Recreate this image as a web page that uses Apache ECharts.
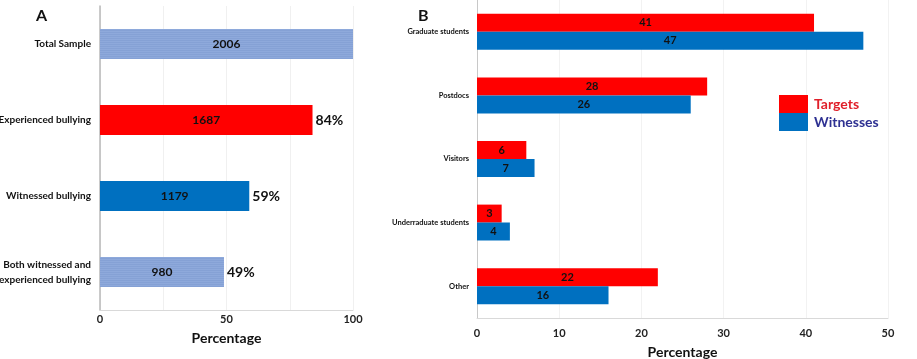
<!DOCTYPE html>
<html><head><meta charset="utf-8">
<script src="https://cdn.jsdelivr.net/npm/echarts@6/dist/echarts.min.js"></script>
<style>html,body{margin:0;padding:0;background:#fff}#c{width:917px;height:359px}</style>
</head><body><div id="c"></div>
<script>
// Panel A data
var catsA = ['Total Sample', 'Experienced bullying', 'Witnessed bullying', 'Both witnessed and\nexperienced bullying'];
var pctA = [100, 84, 59, 49];
var countsA = [2006, 1687, 1179, 980];
var pctLabelsA = ['', '84%', '59%', '49%'];
var ticksA = [0, 50, 100];
// Panel B data
var catsB = ['Graduate students', 'Postdocs', 'Visitors', 'Underraduate students', 'Other'];
var targetsB = [41, 28, 6, 3, 22];
var witnessesB = [47, 26, 7, 4, 16];
var ticksB = [0, 10, 20, 30, 40, 50];

var FONT = 'Lato';
var lightBlue = '#8EA9DB', red = '#FF0000', blue = '#0070C0';
var hatch = { symbol: 'rect', symbolSize: 1, dashArrayX: [[1, 0]], dashArrayY: [1, 1], rotation: 0, color: 'rgba(100,130,190,0.22)' };
var colorsA = [lightBlue, red, blue, lightBlue];

var chart = echarts.init(document.getElementById('c'), null, { renderer: 'canvas' });
chart.setOption({
  animation: false,
  textStyle: { fontFamily: FONT },
  title: [
    { text: 'A', left: 31, top: 3, textStyle: { fontFamily: FONT, fontSize: 16, fontWeight: 'bold', color: '#111' } },
    { text: 'B', left: 413, top: 3, textStyle: { fontFamily: FONT, fontSize: 16, fontWeight: 'bold', color: '#111' } }
  ],
  legend: {
    orient: 'vertical', left: 774, top: 90, itemWidth: 29, itemHeight: 18, itemGap: 0, icon: 'rect',
    selectedMode: false,
    textStyle: { fontFamily: FONT, fontSize: 14, fontWeight: 'bold', padding: [0, 0, 0, 1] },
    data: [
      { name: 'Targets', textStyle: { color: '#E0202A' } },
      { name: 'Witnesses', textStyle: { color: '#2E3192' } }
    ]
  },
  grid: [
    { left: 100, right: 564, top: 6, bottom: 49, containLabel: false, outerBoundsMode: 'none' },
    { left: 477, right: 29, top: 0, bottom: 41, containLabel: false, outerBoundsMode: 'none' }
  ],
  xAxis: [
    {
      gridIndex: 0, type: 'value', min: 0, max: 100, interval: 25,
      axisLine: { show: true, lineStyle: { color: '#D9D9D9' } }, axisTick: { show: false },
      splitLine: { show: true, lineStyle: { color: '#F0F0F0' } },
      axisLabel: { margin: 4, fontSize: 11, fontWeight: 'bold', color: '#222', fontFamily: FONT,
        formatter: function (v) { return ticksA.indexOf(v) >= 0 ? String(v) : ''; } },
      name: 'Percentage', nameLocation: 'middle', nameGap: 21,
      nameTextStyle: { fontSize: 14, fontWeight: 'bold', color: '#111', fontFamily: FONT }
    },
    {
      gridIndex: 1, type: 'value', min: 0, max: 50, interval: 10,
      axisLine: { show: true, lineStyle: { color: '#D9D9D9' } }, axisTick: { show: false },
      splitLine: { show: true, lineStyle: { color: '#F2F2F2' } },
      axisLabel: { margin: 10, fontSize: 11, fontWeight: 'bold', color: '#222', fontFamily: FONT,
        formatter: function (v) { return ticksB.indexOf(v) >= 0 ? String(v) : ''; } },
      name: 'Percentage', nameLocation: 'middle', nameGap: 27,
      nameTextStyle: { fontSize: 14, fontWeight: 'bold', color: '#111', fontFamily: FONT }
    }
  ],
  yAxis: [
    {
      gridIndex: 0, type: 'category', data: catsA, inverse: true,
      axisLine: { show: true, lineStyle: { color: '#B8B8B8', width: 1.5 } }, axisTick: { show: false },
      axisLabel: { margin: 9, fontSize: 10, fontWeight: 'bold', color: '#111', fontFamily: FONT, lineHeight: 15, align: 'right' }
    },
    {
      gridIndex: 1, type: 'category', data: catsB, inverse: true,
      axisLine: { show: true, lineStyle: { color: '#C8C8C8', width: 1 } }, axisTick: { show: false },
      axisLabel: { margin: 8, fontSize: 7.5, fontWeight: 'bold', color: '#111', fontFamily: FONT }
    }
  ],
  series: [
    {
      type: 'bar', xAxisIndex: 0, yAxisIndex: 0, barWidth: 30,
      data: pctA.map(function (v, i) {
        return { value: v, itemStyle: { color: colorsA[i], decal: colorsA[i] === lightBlue ? hatch : null } };
      }),
      label: { show: true, position: 'inside', fontSize: 12, fontWeight: 'bold', color: '#111', fontFamily: FONT,
        formatter: function (p) { return String(countsA[p.dataIndex]); } }
    },
    {
      type: 'bar', xAxisIndex: 0, yAxisIndex: 0, barWidth: 30, barGap: '-100%',
      data: pctA, itemStyle: { color: 'rgba(0,0,0,0)' }, silent: true,
      label: { show: true, position: 'right', distance: 3, fontSize: 14, fontWeight: 'bold', color: '#111', fontFamily: FONT,
        formatter: function (p) { return pctLabelsA[p.dataIndex]; } }
    },
    {
      name: 'Targets', type: 'bar', xAxisIndex: 1, yAxisIndex: 1, barWidth: 18, barGap: '0%',
      data: targetsB, itemStyle: { color: red },
      label: { show: true, position: 'inside', fontSize: 11, fontWeight: 'bold', color: '#111', fontFamily: FONT }
    },
    {
      name: 'Witnesses', type: 'bar', xAxisIndex: 1, yAxisIndex: 1, barWidth: 18, barGap: '0%',
      data: witnessesB, itemStyle: { color: blue },
      label: { show: true, position: 'inside', fontSize: 11, fontWeight: 'bold', color: '#111', fontFamily: FONT }
    }
  ]
});
</script></body></html>
